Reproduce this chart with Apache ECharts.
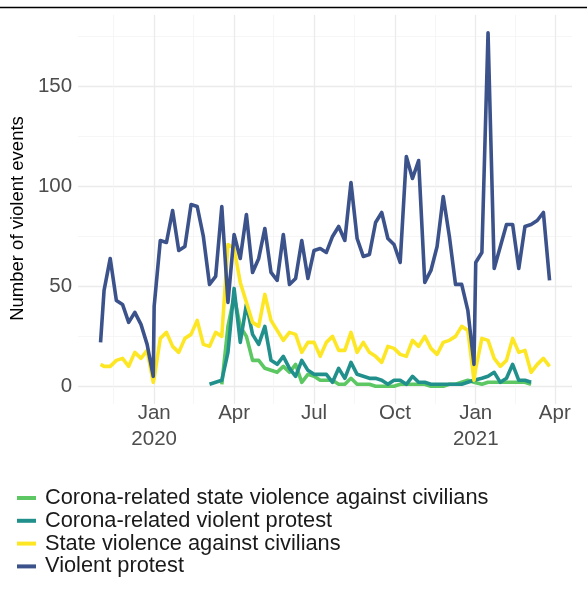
<!DOCTYPE html>
<html><head><meta charset="utf-8">
<script src="https://cdn.jsdelivr.net/npm/echarts@6/dist/echarts.min.js"></script>
<style>html,body{margin:0;padding:0;background:#fff}#c{width:587px;height:606px}</style>
</head><body><div id="c"></div>
<script>
// Week start dates (partial weeks at year boundaries)
const dates = [
 '2019-11-01','2019-11-05','2019-11-12','2019-11-19','2019-11-26','2019-12-03','2019-12-10','2019-12-17','2019-12-24','2019-12-31',
 '2020-01-01','2020-01-08','2020-01-15','2020-01-22','2020-01-29','2020-02-05','2020-02-12','2020-02-19','2020-02-26','2020-03-04',
 '2020-03-11','2020-03-18','2020-03-25','2020-04-01','2020-04-08','2020-04-15','2020-04-22','2020-04-29','2020-05-06','2020-05-13',
 '2020-05-20','2020-05-27','2020-06-03','2020-06-10','2020-06-17','2020-06-24','2020-07-01','2020-07-08','2020-07-15','2020-07-22',
 '2020-07-29','2020-08-05','2020-08-12','2020-08-19','2020-08-26','2020-09-02','2020-09-09','2020-09-16','2020-09-23','2020-09-30',
 '2020-10-07','2020-10-14','2020-10-21','2020-10-28','2020-11-04','2020-11-11','2020-11-18','2020-11-25','2020-12-02','2020-12-09',
 '2020-12-16','2020-12-23','2020-12-30',
 '2021-01-01','2021-01-08','2021-01-15','2021-01-22','2021-01-29','2021-02-05','2021-02-12','2021-02-19','2021-02-26','2021-03-05',
 '2021-03-12','2021-03-19','2021-03-26'
];
const violentProtest = [
 22,48,64,43,41,32,37,31,21,5,
 40,73,72,88,68,70,91,90,75,51,
 55,90,42,76,64,86,57,64,79,57,
 53,76,51,54,73,54,68,69,67,75,
 80,73,102,74,65,66,82,87,74,71,
 62,115,104,113,52,58,70,95,75,51,
 51,38,11,
 62,67,177,59,70,81,81,59,80,81,
 83,87,53
];
const stateViolence = [
 11,10,10,13,14,10,17,14,18,2,
 4,24,27,20,17,24,26,33,21,20,
 27,25,71,69,52,42,32,30,46,33,
 28,23,27,26,17,22,22,15,22,25,
 18,18,27,17,22,17,15,12,20,19,
 16,15,23,20,25,19,16,22,23,25,
 30,28,3,
 9,24,23,14,10,13,24,17,18,7,
 11,14,10
];
const coronaProtest = [
 null,null,null,null,null,null,null,null,null,null,
 null,null,null,null,null,null,null,null,null,1,
 2,3,17,49,22,41,26,21,30,13,
 11,15,9,5,13,8,6,6,6,2,
 9,4,12,6,5,4,4,3,1,3,
 3,1,5,2,2,1,1,1,1,1,
 1,2,3,
 3,4,5,7,2,4,11,3,3,2,
 null,null,null
];
const coronaStateViolence = [
 null,null,null,null,null,null,null,null,null,null,
 null,null,null,null,null,null,null,null,null,null,
 null,1,30,45,30,25,13,13,9,8,
 7,10,7,11,2,6,5,3,3,3,
 1,1,4,1,1,1,0,0,0,0,
 1,1,1,1,1,0,0,0,1,1,
 2,3,2,
 1,1,2,2,2,2,2,2,2,1,
 null,null,null
];
const seriesNames = ['Corona-related state violence against civilians','Corona-related violent protest','State violence against civilians','Violent protest'];
const seriesColors = ['#5DC863','#21908C','#FDE725','#3B528B'];
const seriesValues = [coronaStateViolence, coronaProtest, stateViolence, violentProtest];
const monthNames = ['Jan','Feb','Mar','Apr','May','Jun','Jul','Aug','Sep','Oct','Nov','Dec'];
const xMajorTicks = ['2020-01-01','2020-04-01','2020-07-01','2020-10-01','2021-01-01','2021-04-01'];
const xMinorTicks = ['2019-11-16','2020-02-15','2020-05-16','2020-08-16','2020-11-16','2021-02-15'];
const yMajorTicks = [0,50,100,150];
const yMinorTicks = [25,75,125,175];
const yTitle = 'Number of violent events';

const FONT = '"Liberation Sans", Arial, sans-serif';
function ts(s){const p=s.split('-').map(Number);return Date.UTC(p[0],p[1]-1,p[2]);}
const tFirst = ts(dates[0]), tLast = ts(dates[dates.length-1]);
const xPad = (tLast - tFirst) * 0.05;
const xMin = tFirst - xPad, xMax = tLast + xPad;
let vMax = -Infinity, vMin = Infinity;
seriesValues.forEach(a => a.forEach(v => { if (v != null) { vMax = Math.max(vMax, v); vMin = Math.min(vMin, v); } }));
const yPad = (vMax - vMin) * 0.05;
const yMin = vMin - yPad, yMax = vMax + yPad;

const chart = echarts.init(document.getElementById('c'), null, {renderer:'canvas'});
const labelStyle = {fontFamily: FONT, fontSize: 20.5, color: '#4d4d4d'};
chart.setOption({
  animation: false,
  backgroundColor: '#ffffff',
  grid: {left: 76, right: 15, top: 15, bottom: 202, containLabel: false},
  xAxis: [
    {type:'value', min:xMin, max:xMax, scale:true,
     axisLine:{show:false},
     axisTick:{show:false, customValues: xMajorTicks.map(ts)},
     axisLabel:{customValues: xMajorTicks.map(ts), ...labelStyle, margin: -4, lineHeight: 26,
       formatter: v => { const d = new Date(v); const m = monthNames[d.getUTCMonth()]; return d.getUTCMonth()===0 ? m + '\n' + d.getUTCFullYear() : m; }},
     splitLine:{show:true, lineStyle:{color:'#ebebeb', width:1.3}}},
    {type:'value', min:xMin, max:xMax, scale:true, position:'bottom',
     axisLine:{show:false}, axisLabel:{show:false},
     axisTick:{show:false, customValues: xMinorTicks.map(ts)},
     splitLine:{show:true, lineStyle:{color:'#f4f4f4', width:0.8}}}
  ],
  yAxis: [
    {type:'value', min:yMin, max:yMax,
     name: yTitle, nameLocation:'middle', nameGap: 42, nameRotate: 90,
     nameTextStyle:{fontFamily: FONT, fontSize: 18.5, color:'#000', padding:[0,18,0,0]},
     axisLine:{show:false},
     axisTick:{show:false, customValues: yMajorTicks},
     axisLabel:{customValues: yMajorTicks, ...labelStyle, margin: 6},
     splitLine:{show:true, lineStyle:{color:'#ebebeb', width:1.3}}},
    {type:'value', min:yMin, max:yMax, position:'left',
     axisLine:{show:false}, axisLabel:{show:false},
     axisTick:{show:false, customValues: yMinorTicks},
     splitLine:{show:true, lineStyle:{color:'#f4f4f4', width:0.8}}}
  ],
  legend: {
    orient:'vertical', left: 12, top: 482, itemWidth: 19, itemHeight: 4, itemGap: 0.8, icon: 'rect',
    textStyle:{fontFamily: FONT, fontSize: 21.8, color:'#1a1a1a', padding:[0,0,0,4]},
    data: seriesNames
  },
  graphic: [
    {type:'line', shape:{x1:0, y1:7.5, x2:587, y2:7.5}, style:{stroke:'#000', lineWidth:1.6}, silent:true}
  ],
  series: seriesNames.map((name, i) => ({
    name, type:'line', xAxisIndex:0, yAxisIndex:0,
    data: dates.map((d, j) => [ts(d), seriesValues[i][j]]),
    showSymbol:false, symbol:'none', connectNulls:false,
    color: seriesColors[i],
    lineStyle:{color: seriesColors[i], width: 3.6, join:'round', cap:'butt'},
    z: 2 + i
  }))
});
</script>
</body></html>
